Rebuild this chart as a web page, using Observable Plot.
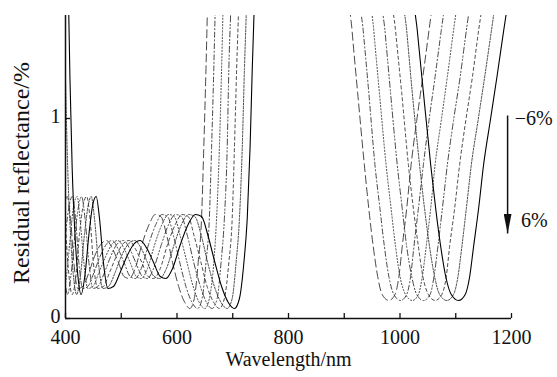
<!DOCTYPE html>
<html><head><meta charset="utf-8">
<script src="https://cdn.jsdelivr.net/npm/d3@7"></script>
<script src="https://cdn.jsdelivr.net/npm/@observablehq/plot@0.6"></script>
<style>body{margin:0;background:#fff;} svg{display:block}</style>
</head><body><div id="chart"></div>
<script>
// Residual reflectance (%) read at corresponding points of every curve
const refl = [3.0,1.8,1.2,0.75,0.42,0.22,0.12,0.22,0.42,0.57,0.61,0.50,0.28,0.15,0.16,0.23,0.31,0.37,0.39,0.35,0.28,0.21,0.20,0.25,0.37,0.47,0.52,0.51,0.41,0.28,0.16,0.08,0.05,0.10,0.28,0.50,0.85,1.25,1.6,2.4,2.4,1.65,1.44,1.13,0.77,0.55,0.36,0.21,0.12,0.09,0.12,0.21,0.36,0.55,0.77,0.99,1.21,1.44,1.7,2.0];
// Wavelengths (nm) for each thickness-error curve
const wlM6 = [353,358,362,365,370,374,380,386,392,398,403,409,415,422,431,442,452,463,474,484,495,505,514,525,537,550,561,571,582,592,603,614,623,631,638,644,648,652,655,661,903,908,914,924,936,944,952,960,968,980,991,998,1004,1012,1020,1030,1041,1052,1064,1077];
const wlM4 = [360,366,370,373,378,382,388,394,400,407,412,418,424,431,440,451,462,473,484,494,505,516,525,536,549,562,573,583,594,605,616,627,637,645,652,658,662,666,669,675,922,927,934,944,955,964,972,980,989,1001,1012,1019,1025,1033,1042,1052,1063,1074,1087,1100];
const wlM2 = [368,374,377,381,386,390,396,402,409,415,421,426,433,440,449,460,472,483,494,505,516,527,536,547,560,573,585,595,606,618,629,640,650,658,666,671,676,680,683,689,941,947,953,963,975,984,992,1000,1010,1022,1033,1040,1047,1055,1063,1074,1085,1096,1109,1123];
const wl0  = [375,381,385,389,393,398,404,410,417,424,429,435,442,449,458,470,481,492,504,515,526,538,547,558,572,585,597,608,619,630,642,653,663,672,679,685,690,693,697,703,960,966,973,983,995,1004,1012,1021,1030,1042,1054,1061,1068,1076,1085,1096,1108,1119,1132,1146];
const wlP2 = [383,389,393,396,401,406,412,419,425,432,438,444,450,458,468,479,491,502,514,525,537,548,558,570,583,597,609,620,631,643,654,666,676,685,693,699,703,707,711,717,980,985,992,1003,1015,1024,1033,1041,1051,1063,1075,1083,1089,1098,1107,1118,1130,1141,1155,1169];
const wlP4 = [390,396,400,404,409,414,420,427,434,441,446,452,459,467,477,489,500,512,524,536,547,559,569,581,595,608,621,632,644,655,667,679,690,699,706,712,717,721,725,731,999,1005,1012,1022,1035,1044,1053,1062,1071,1084,1096,1104,1111,1119,1128,1140,1152,1164,1177,1192];
const wlP6 = [398,404,408,412,417,422,428,435,442,449,455,461,468,476,486,498,510,522,534,546,558,570,580,592,606,620,633,644,656,668,680,692,703,712,720,726,731,735,739,745,1018,1024,1031,1042,1055,1064,1073,1082,1092,1105,1117,1125,1132,1141,1150,1162,1174,1186,1200,1215];

const seriesNames = ["-6%","-4%","-2%","0%","2%","4%","6%"];
const seriesWl = [wlM6, wlM4, wlM2, wl0, wlP2, wlP4, wlP6];

const xTicks = [400,500,600,700,800,900,1000,1100,1200];
const xLabels = [400,600,800,1000,1200];
const yTicks = [0,1];
const yLabels = [0,1];

const arrowData = [{x1:1193, y1:1.015, x2:1193, y2:0.425}];
const annotations = [{text:"\u22126%", x:1206, y:1.0}, {text:"6%", x:1217, y:0.49}];

// styles
const dashes = ["8,4","5,2.5,1.2,2.5","1.2,2","6,2.5,1.2,2,1.2,2.5","3,3","2,1.5",null];

const font = "'Liberation Serif','Times New Roman',serif";

function headMarker(color, context) {
  const m = d3.create("svg:marker")
    .attr("viewBox","0 -4 20 8")
    .attr("markerWidth",20).attr("markerHeight",8)
    .attr("markerUnits","userSpaceOnUse")
    .attr("refX",20).attr("refY",0)
    .attr("orient","auto");
  m.append("path").attr("d","M0,-4L20,0L0,4Z").attr("fill","#111").attr("stroke","none");
  return m.node();
}

const lineMarks = seriesWl.map((wl, i) => {
  const rows = wl.map((w, j) => ({wl: w, r: refl[j], s: seriesNames[i]}));
  return Plot.line(rows, {
    x: "wl", y: "r", curve: "monotone-x", clip: true,
    stroke: i === 6 ? "#000" : "#333",
    strokeWidth: i === 6 ? 1.1 : 0.9,
    strokeDasharray: dashes[i] || undefined
  });
});

const chart = Plot.plot({
  width: 557, height: 377,
  marginLeft: 65, marginRight: 46, marginTop: 15, marginBottom: 59,
  style: {fontFamily: font, background: "#fff", color: "#111"},
  x: {domain: [400, 1200]},
  y: {domain: [0, 1.515]},
  marks: [
    ...lineMarks,
    Plot.axisX({ticks: xTicks, tickSize: -5, tickFormat: () => "", strokeWidth: 1.3, label: null}),
    Plot.axisX({ticks: xLabels, tickSize: 0, tickPadding: 11, fontSize: 20, label: null, tickFormat: d => String(d)}),
    Plot.axisY({ticks: yTicks, tickSize: -5, tickFormat: () => "", strokeWidth: 1.3, label: null}),
    Plot.axisY({ticks: yLabels, tickSize: 0, tickPadding: 5, dy: -2, fontSize: 20, label: null, tickFormat: d => String(d)}),
    Plot.ruleY([0], {stroke: "#111", strokeWidth: 1.5}),
    Plot.ruleX([400], {stroke: "#111", strokeWidth: 1.5}),
    Plot.text(["Wavelength/nm"], {frameAnchor: "bottom", dy: 47, fontSize: 20, fill: "#111"}),
    Plot.text(["Residual reflectance/%"], {frameAnchor: "left", textAnchor: "middle", rotate: -90, dx: -44, dy: 6, fontSize: 24, fill: "#111"}),
    Plot.link(arrowData, {x1: "x1", y1: "y1", x2: "x2", y2: "y2", stroke: "#111", strokeWidth: 1.5, markerEnd: headMarker}),
    Plot.text(annotations, {x: "x", y: "y", text: "text", textAnchor: "start", fontSize: 20, fill: "#111"})
  ]
});
document.getElementById("chart").appendChild(chart);
</script>
</body></html>
